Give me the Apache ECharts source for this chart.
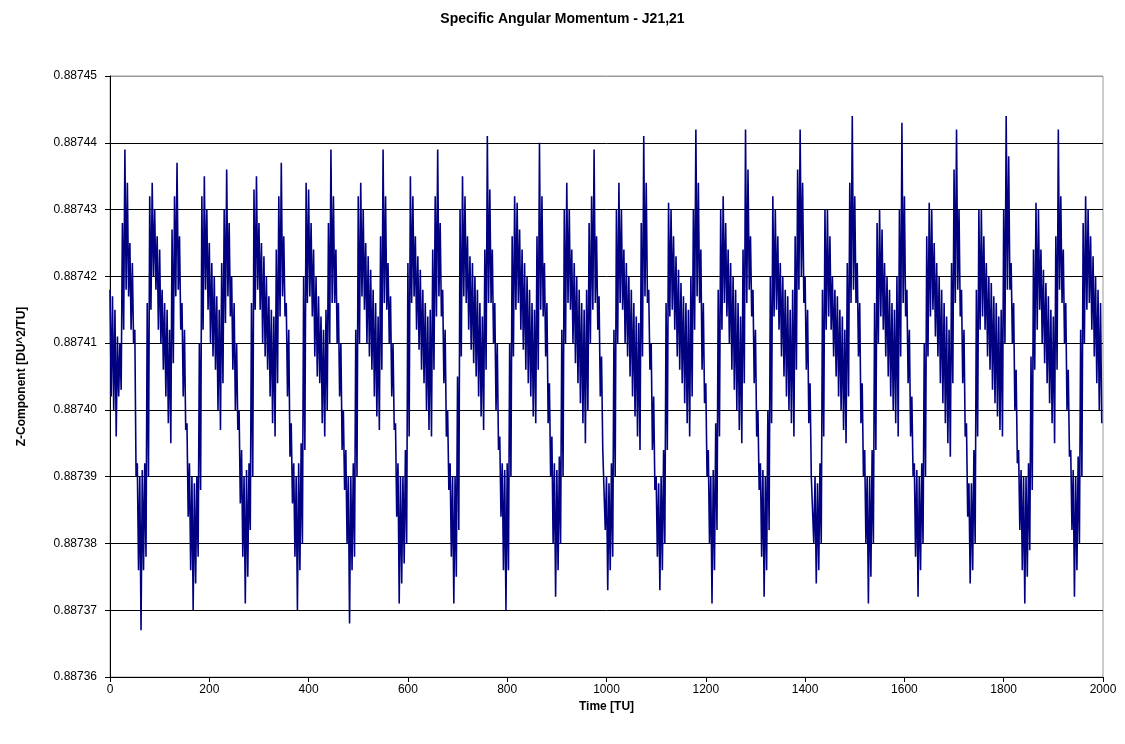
<!DOCTYPE html>
<html>
<head>
<meta charset="utf-8">
<script src="https://cdn.jsdelivr.net/npm/echarts@6/dist/echarts.min.js"></script>
<style>
html,body{margin:0;padding:0;background:#fff;}
#chart{width:1125px;height:744px;}
</style>
</head>
<body>
<div id="chart"></div>
<script>
// Values are stored as micro-units above BASE: value = BASE + v * UNIT
const BASE = 0.88736;
const UNIT = 1e-6;
const STEP = 5; // TU between successive upper readings; lower reading sits half a step later

// upper edge of the oscillation band, one reading every 5 TU from t = 0
const hi = [
  58,57,55,51,50,68,79,74,65,62,52,32,
  30,31,32,56,72,74,70,66,64,58,56,55,52,67,72,77,66,56,52,38,32,
  30,29,30,50,72,75,70,65,62,60,57,55,62,70,76,68,60,56,50,40,34,
  30,31,32,56,73,75,68,65,63,60,57,55,54,64,72,77,66,56,52,38,32,
  30,32,35,60,74,73,68,64,60,57,54,52,55,68,79,72,64,56,50,40,34,
  30,30,32,52,72,74,70,65,63,61,58,56,54,66,79,72,62,57,50,38,
  32,30,30,34,62,75,72,66,63,61,58,56,54,55,64,72,79,68,58,52,40,32,
  30,30,45,70,75,72,66,63,62,60,58,56,54,64,81,73,64,56,50,36,32,
  31,32,50,66,72,71,67,64,62,60,58,56,55,66,80,72,62,56,44,36,
  32,31,33,52,70,74,70,64,62,60,58,56,55,58,68,72,79,66,57,48,34,
  30,29,32,52,70,74,70,64,62,60,58,56,54,53,68,81,74,58,50,42,30,
  29,30,34,56,71,70,66,63,61,59,57,56,55,60,70,82,74,64,56,44,34,
  30,31,38,58,70,72,68,64,62,60,58,56,54,64,82,76,66,58,52,40,32,
  31,30,40,60,72,70,66,62,60,58,57,55,58,66,76,82,74,60,55,44,30,
  30,29,32,58,70,70,66,60,58,57,55,54,52,62,74,84,72,62,56,44,34,
  30,30,34,56,68,70,67,62,60,58,56,55,60,70,83,72,58,52,42,32,
  31,30,32,50,66,71,70,65,62,60,58,56,54,52,62,76,82,70,58,52,38,
  29,29,34,58,70,70,66,62,60,59,57,56,54,55,70,84,78,62,56,46,34,31,
  30,30,32,48,64,71,70,64,61,59,57,55,54,66,82,72,64,56,46,34,
  31,30,33,52,68,72,70,66,63,60,58,56
];

// lower edge of the oscillation band, one reading every 5 TU from t = 2.5
const lo = [
  42,40,36,42,43,52,58,57,52,50,30,16,
  7,16,18,30,55,60,58,52,50,46,42,38,35,47,57,58,52,42,37,24,16,
  10,14,18,28,52,58,55,50,48,46,40,37,44,53,57,54,46,40,37,26,18,
  11,15,22,30,55,58,55,50,48,46,42,38,36,44,54,57,54,42,33,26,18,
  10,16,20,34,56,57,54,48,45,44,38,36,40,50,56,56,50,42,34,28,20,
  8,16,18,30,50,57,55,50,48,46,42,39,37,46,56,55,50,42,37,24,
  11,14,17,20,36,56,57,52,49,46,44,40,37,36,46,54,57,54,44,36,28,18,
  11,15,22,48,57,56,52,49,47,45,42,39,37,46,56,56,50,40,34,24,16,
  10,16,30,48,55,56,52,49,46,44,42,39,38,46,55,54,48,38,30,20,
  12,16,20,30,50,56,55,50,47,44,41,38,35,40,50,55,56,52,42,34,22,
  13,16,18,30,50,56,55,50,48,45,42,39,36,34,48,57,56,46,34,28,18,
  13,16,20,34,54,55,52,48,46,44,41,38,36,42,52,57,56,46,41,30,20,
  11,16,22,36,52,56,54,50,46,43,40,37,35,44,56,58,54,44,36,28,18,
  12,16,22,38,54,55,52,48,45,42,40,38,36,46,58,60,56,46,38,30,20,
  14,16,20,36,52,54,52,48,45,42,40,37,35,42,56,58,56,48,38,30,20,
  11,15,20,34,50,54,52,48,45,42,40,38,36,48,56,54,44,36,30,18,
  12,16,20,30,48,54,55,51,48,44,41,38,35,33,44,56,58,54,44,36,24,
  14,16,20,36,52,54,52,48,46,43,41,39,37,36,50,58,58,50,40,32,22,16,
  11,15,19,28,46,52,55,50,47,44,41,38,35,46,58,56,50,40,33,22,
  12,16,20,30,50,55,56,52,48,44,40,38
];

const yTicks = ['0.88736','0.88737','0.88738','0.88739','0.88740','0.88741','0.88742','0.88743','0.88744','0.88745'];
const xTicks = [0,200,400,600,800,1000,1200,1400,1600,1800,2000];

const series = [];
const n = Math.min(hi.length, lo.length);
for (let i = 0; i < n; i++) {
  series.push([i * STEP, BASE + hi[i] * UNIT]);
  series.push([i * STEP + STEP / 2, BASE + lo[i] * UNIT]);
}

const FONT = "'Liberation Sans', Arial, sans-serif";
const chart = echarts.init(document.getElementById('chart'), null, {renderer: 'canvas'});
const splitColors = yTicks.map((t, i) => i === yTicks.length - 1 ? '#9a9a9a' : '#000000');

chart.setOption({
  animation: false,
  backgroundColor: '#ffffff',
  title: {
    text: 'Specific Angular Momentum - J21,21',
    left: 'center',
    top: 7,
    textStyle: {fontFamily: FONT, fontSize: 14, fontWeight: 'bold', color: '#000'}
  },
  grid: {
    left: 110, right: 22, top: 76, bottom: 67,
    show: true, borderColor: '#9a9a9a', borderWidth: 1, backgroundColor: 'transparent',
    containLabel: false, outerBoundsMode: 'none'
  },
  xAxis: {
    type: 'value',
    min: xTicks[0], max: xTicks[xTicks.length - 1], interval: 200,
    name: 'Time [TU]',
    nameLocation: 'middle',
    nameGap: 20,
    nameTextStyle: {fontFamily: FONT, fontSize: 12, fontWeight: 'bold', color: '#000'},
    axisLine: {show: true, onZero: false, lineStyle: {color: '#000', width: 1}},
    axisTick: {show: true, inside: false, length: 5, lineStyle: {color: '#000'}},
    axisLabel: {fontFamily: FONT, fontSize: 12, color: '#000', margin: 7,
      formatter: v => String(Math.round(v))},
    splitLine: {show: false}
  },
  yAxis: {
    type: 'value',
    min: BASE, max: 0.88745, interval: 0.00001,
    name: 'Z-Component [DU^2/TU]',
    nameLocation: 'middle',
    nameGap: 82,
    nameRotate: 90,
    nameTextStyle: {fontFamily: FONT, fontSize: 12, fontWeight: 'bold', color: '#000'},
    axisLine: {show: true, onZero: false, lineStyle: {color: '#000', width: 1}},
    axisTick: {show: true, inside: false, length: 5, lineStyle: {color: '#000'}},
    axisLabel: {fontFamily: FONT, fontSize: 12, color: '#000', margin: 13,
      formatter: v => {
        const idx = Math.round((v - BASE) / 0.00001);
        return yTicks[idx] !== undefined ? yTicks[idx] : v.toFixed(5);
      }},
    splitLine: {show: true, lineStyle: {color: splitColors, width: 1}}
  },
  series: [{
    type: 'line',
    data: series,
    showSymbol: false,
    symbol: 'none',
    sampling: null,
    lineStyle: {color: '#000080', width: 1.6, join: 'bevel'},
    emphasis: {disabled: true},
    silent: true
  }]
});
</script>
</body>
</html>
